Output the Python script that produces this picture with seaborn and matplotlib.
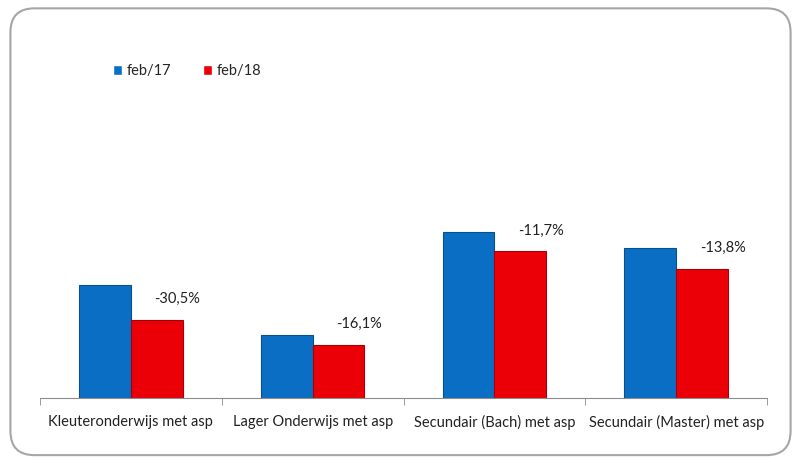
import pandas as pd
import matplotlib
matplotlib.use('Agg')
import matplotlib.pyplot as plt
from matplotlib.patches import FancyBboxPatch
import seaborn as sns

# data (arbitrary units)
categories = ['Kleuteronderwijs met asp', 'Lager Onderwijs met asp',
              'Secundair (Bach) met asp', 'Secundair (Master) met asp']
feb17 = [113, 63, 166, 150]
feb18 = [78.5, 53, 146.6, 129.3]
changes = ['-30,5%', '-16,1%', '-11,7%', '-13,8%']
series = ['feb/17', 'feb/18']

df = pd.DataFrame({'categorie': categories * 2,
                   'waarde': feb17 + feb18,
                   'periode': [series[0]] * 4 + [series[1]] * 4})

sns.set_style('white')
plt.rcParams['font.family'] = ['Lato', 'DejaVu Sans']

fig = plt.figure(figsize=(8.01, 4.63), dpi=100)
ax = fig.add_axes([0.05, 0.1404, 0.9076, 0.773])

colors = {'feb/17': '#0A6FC4', 'feb/18': '#EC0007'}
sns.barplot(data=df, x='categorie', y='waarde', hue='periode', palette=colors,
            width=0.57, ax=ax, saturation=1, legend=True)

edge = {'feb/17': '#0A4F8A', 'feb/18': '#A8000A'}
for cont, name in zip(ax.containers, series):
    for bar in cont:
        bar.set_edgecolor(edge[name])
        bar.set_linewidth(0.8)

# percentage labels next to the feb/18 bars
for bar, txt in zip(ax.containers[1], changes):
    ax.text(bar.get_x() + bar.get_width() * 0.9, bar.get_height() + 14, txt,
            ha='center', va='bottom', fontsize=10.5, color='#222222')

ax.set_ylim(0, 358)
ax.set_xlim(-0.5, 3.5)
ax.set_xlabel('')
ax.set_ylabel('')
ax.set_yticks([])
for s in ['top', 'right', 'left']:
    ax.spines[s].set_visible(False)
ax.spines['bottom'].set_color('#8C8C8C')
ax.set_xticks([-0.5, 0.5, 1.5, 2.5, 3.5], minor=True)
ax.tick_params(axis='x', which='minor', length=5, color='#8C8C8C', bottom=True)
ax.tick_params(axis='x', which='major', length=0, pad=12, labelsize=10.5, labelcolor='#222222')

ax.legend(loc='upper left', bbox_to_anchor=(0.125, 0.89), bbox_transform=fig.transFigure,
          ncol=2, frameon=False, handlelength=0.6, handleheight=0.6, handletextpad=0.3,
          columnspacing=2.2, fontsize=10.5)

border = FancyBboxPatch((0.013, 0.017), 0.974, 0.965, boxstyle='round,pad=0,rounding_size=0.03',
                        transform=fig.transFigure, facecolor='none', edgecolor='#A6A6A6',
                        linewidth=1.5, mutation_aspect=801 / 463)
fig.patches.append(border)

fig.savefig('out.png', dpi=100)
